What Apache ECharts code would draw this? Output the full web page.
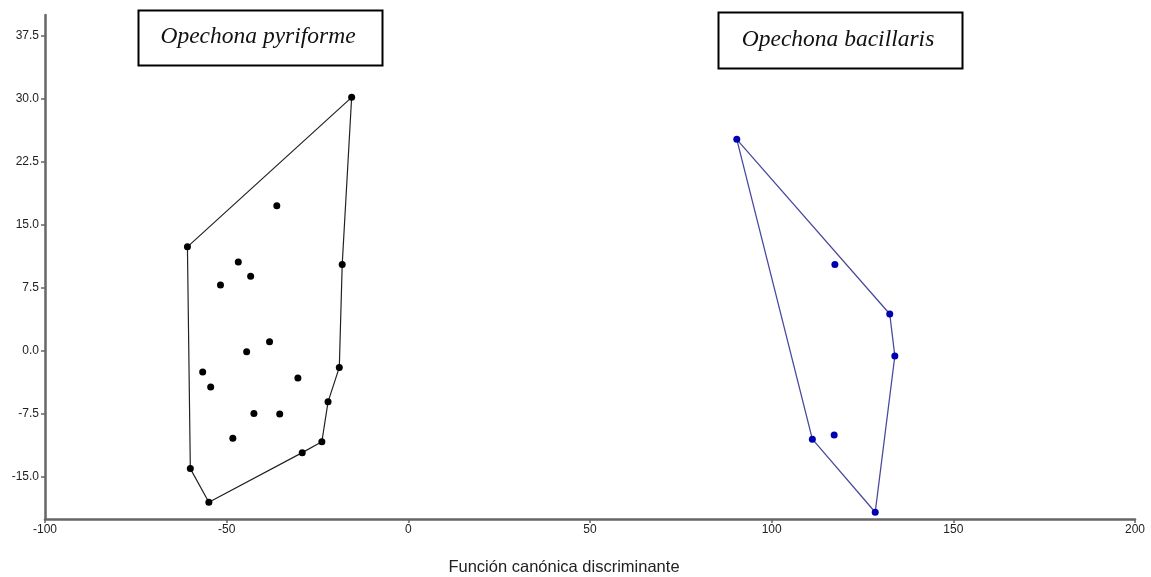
<!DOCTYPE html>
<html>
<head>
<meta charset="utf-8">
<script src="https://cdn.jsdelivr.net/npm/echarts@6/dist/echarts.min.js"></script>
<style>html,body{margin:0;padding:0;background:#fff}#c{width:1151px;height:577px}</style>
</head>
<body>
<div id="c"></div>
<script>
// Opechona pyriforme (black)
const pyrX = [-15.6, -60.8, -36.2, -46.8, -18.2, -43.4, -51.7, -38.2, -44.5, -56.6, -54.4, -30.4, -19.0, -22.1, -42.5, -35.4, -48.3, -23.8, -29.2, -60.0, -54.9];
const pyrY = [30.2, 12.4, 17.3, 10.6, 10.3, 8.9, 7.85, 1.1, -0.1, -2.5, -4.3, -3.2, -1.95, -6.05, -7.45, -7.5, -10.4, -10.8, -12.1, -14.0, -18.0];
const pyrHull = [0, 1, 19, 20, 18, 17, 13, 12, 4, 0];
// Opechona bacillaris (blue)
const bacX = [90.4, 117.4, 132.5, 133.9, 111.2, 117.2, 128.5];
const bacY = [25.2, 10.3, 4.4, -0.6, -10.5, -10.0, -19.2];
const bacHull = [0, 2, 3, 6, 4, 0];
// axes
const yTicks = [-15, -7.5, 0, 7.5, 15, 22.5, 30, 37.5];
const xTicks = [-100, 0, 50, 100, 150, 200];
const xTitle = 'Función canónica discriminante';
const labels = ['Opechona pyriforme', 'Opechona bacillaris'];

const pts = (xs, ys) => xs.map((x, i) => [x, ys[i]]);
const hull = (xs, ys, idx) => idx.map(i => [xs[i], ys[i]]);

const chart = echarts.init(document.getElementById('c'), null, {renderer: 'canvas'});
const axisColor = '#666';
const serif = '"Liberation Serif", "Times New Roman", serif';
chart.setOption({
  animation: false,
  backgroundColor: '#fff',
  grid: {left: 45, right: 16, top: 15, bottom: 58, containLabel: false},
  xAxis: {
    type: 'value', min: -100, max: 200, interval: 50,
    splitLine: {show: false},
    axisLine: {onZero: false, lineStyle: {color: axisColor, width: 2.5}},
    axisTick: {show: true, length: 4, lineStyle: {color: axisColor, width: 1.5}},
    axisLabel: {color: '#222', fontFamily: 'Liberation Sans, Arial', fontSize: 12, margin: 5}
  },
  yAxis: {
    type: 'value', min: -20, max: 40,
    splitLine: {show: false},
    axisLine: {show: true, onZero: false, lineStyle: {color: axisColor, width: 2.5}},
    axisTick: {show: true, length: 4, customValues: yTicks, lineStyle: {color: axisColor, width: 1.5}},
    axisLabel: {customValues: yTicks, color: '#222', fontFamily: 'Liberation Sans, Arial', fontSize: 12, margin: 6,
      formatter: v => Number(v).toFixed(1)}
  },
  series: [
    {type: 'line', data: hull(pyrX, pyrY, pyrHull), symbol: 'none', lineStyle: {color: '#222', width: 1.2}, z: 2},
    {type: 'scatter', data: pts(pyrX, pyrY), symbolSize: 7, itemStyle: {color: '#000', opacity: 1}, z: 3},
    {type: 'line', data: hull(bacX, bacY, bacHull), symbol: 'none', lineStyle: {color: '#4a4a9c', width: 1.3}, z: 2},
    {type: 'scatter', data: pts(bacX, bacY), symbolSize: 7, itemStyle: {color: '#0000b0', opacity: 1}, z: 3}
  ],
  graphic: [
    {type: 'rect', shape: {x: 138.5, y: 10.5, width: 244, height: 55}, style: {fill: '#fff', stroke: '#000', lineWidth: 2}},
    {type: 'text', x: 258, y: 37, style: {text: labels[0], font: 'italic 23.5px ' + serif, fill: '#111', align: 'center', verticalAlign: 'middle'}},
    {type: 'rect', shape: {x: 718.5, y: 12.5, width: 244, height: 56}, style: {fill: '#fff', stroke: '#000', lineWidth: 2}},
    {type: 'text', x: 838, y: 40, style: {text: labels[1], font: 'italic 23.5px ' + serif, fill: '#111', align: 'center', verticalAlign: 'middle'}},
    {type: 'text', x: 564, y: 567, style: {text: xTitle, font: '16.5px "Liberation Sans", Arial, sans-serif', fill: '#222', align: 'center', verticalAlign: 'middle'}}
  ]
});
</script>
</body>
</html>
